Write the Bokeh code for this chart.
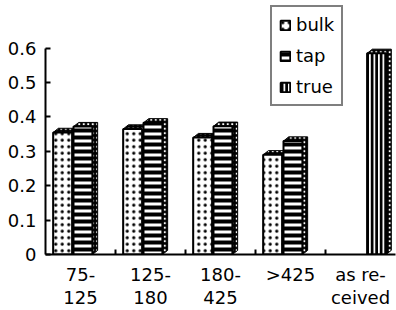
import numpy as np
from bokeh.plotting import figure
from bokeh.models import Range1d, FixedTicker, Legend, LegendItem, PrintfTickFormatter
from bokeh.embed import file_html
from bokeh.resources import INLINE

# ---- data ----
categories = ["75-125", "125-180", "180-425", ">425", "as received"]
tick_labels = ["75-\n125", "125-\n180", "180-\n425", ">425", "as re-\nceived"]
bulk = [0.355, 0.365, 0.34, 0.29, None]
tap = [0.372, 0.383, 0.373, 0.33, None]
true_density = [None, None, None, None, 0.585]
y_ticks = [0, 0.1, 0.2, 0.3, 0.4, 0.5, 0.6]

FONT = "DejaVu Sans"
FS = "18px"
DX, DY, W = 0.075, 0.012, 0.27

p = figure(width=396, height=310, output_backend="svg", toolbar_location=None,
           x_range=Range1d(0.5, 5.5), y_range=Range1d(0, 0.7385),
           min_border_left=45, min_border_right=1, min_border_top=0,
           min_border_bottom=54)
p.outline_line_color = None
p.xgrid.visible = False
p.ygrid.visible = False
p.background_fill_color = "white"


def draw(values, offset, pattern, scale, weight):
    idx = [i for i, v in enumerate(values) if v is not None]
    vals = [values[i] for i in idx]
    centers = [i + 0.5 + offset for i in idx]
    xs, ys = [], []
    for c, v in zip(centers, vals):
        l, r = c - W / 2, c + W / 2
        xs.append([l, l, l + DX, r + DX, r + DX, r])
        ys.append([0, v, v + DY, v + DY, DY, 0])
    p.patches(xs, ys, fill_color="black", line_color="black", line_width=1,
              hatch_pattern="dot", hatch_color="white", hatch_scale=4.5, hatch_weight=1)
    return p.vbar(x=centers, top=vals, width=W, bottom=0, fill_color="white",
                  line_color="black", line_width=2,
                  hatch_pattern=pattern, hatch_color="black",
                  hatch_scale=scale, hatch_weight=weight)


r_bulk = draw(bulk, 0.245, "dot", 6.5, 1)
r_tap = draw(tap, 0.535, "horizontal_line", 7, 4)
r_true = draw(true_density, 0.73, "vertical_line", 4.5, 3)

# y axis
ya = p.yaxis[0]
ya.ticker = FixedTicker(ticks=y_ticks)
ya.formatter = PrintfTickFormatter(format="%.1f")
ya.major_label_overrides = {0: "0"}
ya.bounds = (0, 0.6)
ya.major_tick_in = 5
ya.major_tick_out = 0
ya.minor_tick_in = 0
ya.minor_tick_out = 0
ya.major_label_standoff = 9

# x axis
xa = p.xaxis[0]
xa.ticker = FixedTicker(ticks=[1, 2, 3, 4, 5], minor_ticks=[1.5, 2.5, 3.5, 4.5])
xa.major_label_overrides = {i + 1: lab for i, lab in enumerate(tick_labels)}
xa.major_tick_in = 0
xa.major_tick_out = 0
xa.minor_tick_in = 5
xa.minor_tick_out = 0
xa.major_label_standoff = 9
xa.major_label_text_line_height = 1.1

for ax in (xa, ya):
    ax.axis_line_width = 2
    ax.axis_line_color = "black"
    ax.major_tick_line_width = 2
    ax.minor_tick_line_width = 2
    ax.major_tick_line_color = "black"
    ax.minor_tick_line_color = "black"
    ax.major_label_text_font = FONT
    ax.major_label_text_font_size = FS
    ax.major_label_text_color = "black"

legend = Legend(items=[LegendItem(label="bulk", renderers=[r_bulk]),
                       LegendItem(label="tap", renderers=[r_tap]),
                       LegendItem(label="true", renderers=[r_true])],
                location=(225, 148))
legend.border_line_color = "black"
legend.border_line_width = 2
legend.label_text_font = FONT
legend.label_text_font_size = FS
legend.label_text_color = "black"
legend.glyph_width = 12
legend.glyph_height = 12
legend.label_height = 20
legend.spacing = 10
legend.padding = 7
legend.margin = 0
legend.label_standoff = 5
legend.background_fill_alpha = 1
p.add_layout(legend)

open("out.html", "w").write(file_html(p, INLINE))
